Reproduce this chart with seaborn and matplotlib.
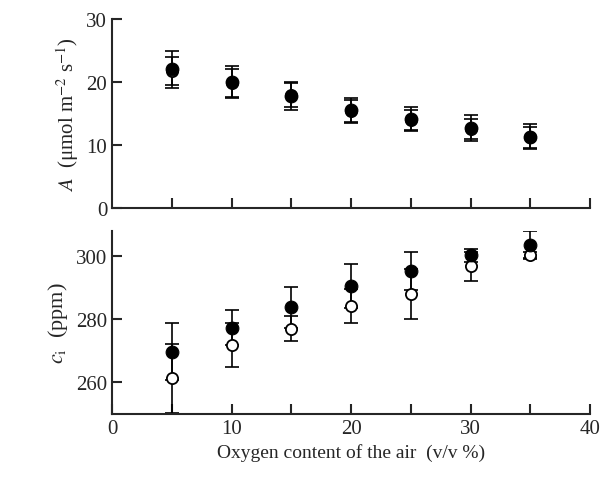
import matplotlib
matplotlib.use("Agg")
import matplotlib.pyplot as plt
import seaborn as sns
import numpy as np

sns.set_style("ticks")
plt.rcParams['font.family'] = ['Liberation Serif', 'DejaVu Serif']
plt.rcParams['mathtext.fontset'] = 'stix'

oxygen = [5, 10, 15, 20, 25, 30, 35]
A_filled = [22.0, 20.0, 17.7, 15.5, 14.2, 12.7, 11.3]
A_filled_err = [3.0, 2.6, 2.2, 2.0, 1.8, 2.0, 2.0]
A_open = [21.8, 19.8, 18.0, 15.4, 13.9, 12.5, 11.2]
A_open_err = [2.2, 2.2, 2.0, 1.8, 1.6, 1.6, 1.6]
ci_filled = [269.7, 277.4, 283.9, 290.6, 295.2, 300.3, 303.5]
ci_filled_err = [9.0, 5.5, 6.5, 7.0, 6.0, 2.0, 4.5]
ci_open = [261.3, 272.0, 277.0, 284.2, 288.0, 296.8, 300.5]
ci_open_err = [11.0, 7.0, 4.0, 5.5, 8.0, 4.5, 1.0]

fig = plt.figure(figsize=(6.11, 4.85), dpi=100)
ax1 = fig.add_axes([112/611, 1-209/485, 478/611, 189/485])
ax2 = fig.add_axes([112/611, 1-415/485, 478/611, 183/485])

def draw(ax, x, yo, eo, yf, ef):
    ax.errorbar(x, yo, yerr=eo, fmt='none', ecolor='black', capsize=5, elinewidth=1.2, capthick=1.2)
    sns.scatterplot(x=x, y=yo, ax=ax, marker='o', s=65, facecolor='white', edgecolor='black', linewidth=1.3, zorder=3)
    ax.errorbar(x, yf, yerr=ef, fmt='none', ecolor='black', capsize=5, elinewidth=1.2, capthick=1.2)
    sns.scatterplot(x=x, y=yf, ax=ax, marker='o', s=85, color='black', edgecolor='black', zorder=4)

draw(ax1, oxygen, A_open, A_open_err, A_filled, A_filled_err)
draw(ax2, oxygen, ci_open, ci_open_err, ci_filled, ci_filled_err)

for ax in (ax1, ax2):
    sns.despine(ax=ax)
    ax.set_xlim(0, 40)
    ax.set_xticks(np.arange(5, 41, 5), minor=False)
    ax.tick_params(axis='x', direction='in', length=7, width=1.5)
    ax.tick_params(axis='y', direction='in', length=7, width=1.5, labelsize=15)
    for s in ax.spines.values():
        s.set_linewidth(1.5)

ax1.set_ylim(0, 30)
ax1.set_yticks([0, 10, 20, 30])
ax1.set_xticklabels([])
ax1.set_ylabel(r'$A$  (μmol m$^{-2}$ s$^{-1}$)', fontsize=15)

ax2.set_ylim(250, 308)
ax2.set_yticks([260, 280, 300])
ax2.set_xticks([0, 10, 20, 30, 40])
ax2.set_xticks([5, 15, 25, 35], minor=True)
ax2.tick_params(axis='x', which='both', direction='in', length=7, width=1.5, labelsize=15)
ax2.set_ylabel(r'$c_{\mathrm{i}}$  (ppm)', fontsize=16)
ax2.set_xlabel('Oxygen content of the air  (v/v %)', fontsize=14)

fig.savefig('out.png', dpi=100)
